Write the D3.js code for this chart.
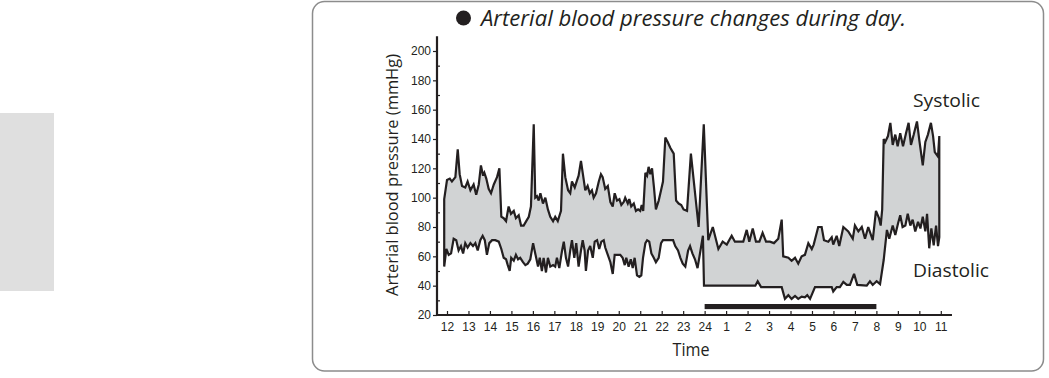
<!DOCTYPE html>
<html>
<head>
<meta charset="utf-8">
<script src="https://cdn.jsdelivr.net/npm/d3@7"></script>
<style>
  body { margin: 0; background: #fff; }
  svg { display: block; font-family: "Open Sans", sans-serif; }
  .axis text { font-size: 12px; fill: #231f20; }
  .axis line { stroke: #231f20; stroke-width: 1.2; }
</style>
</head>
<body>
<div id="chart-area"></div>
<script>
// readings: [hour since noon (12 = noon, 24 = midnight, 35 = 11 am), mmHg]
const systolic = [
  [11.87, 99], [12.0, 112], [12.13, 113], [12.23, 111], [12.39, 114], [12.5, 133], [12.59, 116],
  [12.7, 108], [12.85, 107], [12.96, 111], [13.09, 105], [13.24, 109], [13.36, 102], [13.48, 109],
  [13.58, 122], [13.68, 115], [13.74, 117], [13.83, 113], [13.94, 106], [14.05, 103], [14.18, 109],
  [14.33, 114], [14.44, 120], [14.53, 87], [14.64, 86], [14.75, 84], [14.87, 94], [14.98, 89],
  [15.11, 91], [15.21, 86], [15.34, 88], [15.45, 81], [15.57, 81], [15.69, 84], [15.81, 87],
  [15.91, 94], [16.04, 150], [16.11, 100], [16.19, 101], [16.27, 98], [16.35, 103], [16.47, 96],
  [16.58, 100], [16.7, 92], [16.81, 87], [16.94, 84], [17.04, 87], [17.16, 84], [17.31, 91],
  [17.4, 130], [17.51, 114], [17.64, 105], [17.74, 103], [17.82, 111], [17.95, 107], [18.06, 112],
  [18.13, 115], [18.24, 125], [18.33, 116], [18.44, 105], [18.55, 108], [18.65, 103], [18.75, 105],
  [18.83, 100], [18.94, 103], [19.07, 111], [19.17, 116], [19.25, 114], [19.37, 106], [19.49, 108],
  [19.61, 97], [19.72, 94], [19.81, 103], [19.92, 98], [20.03, 99], [20.12, 95], [20.23, 97],
  [20.3, 100], [20.42, 96], [20.49, 99], [20.58, 94], [20.7, 96], [20.8, 91], [20.9, 92],
  [21.0, 91], [21.07, 95], [21.14, 91], [21.24, 117], [21.32, 115], [21.39, 121], [21.47, 116],
  [21.55, 120], [21.64, 107], [21.73, 92], [21.86, 98], [21.97, 105], [22.06, 111], [22.17, 141],
  [22.28, 138], [22.4, 134], [22.56, 130], [22.67, 98], [22.79, 96], [22.91, 95], [23.02, 92],
  [23.18, 91], [23.36, 130], [23.72, 80], [23.96, 150], [24.17, 71], [24.38, 80], [24.64, 65],
  [24.84, 70], [25.03, 68], [25.26, 74], [25.41, 70], [25.8, 70], [25.96, 78], [26.08, 70],
  [26.24, 79], [26.39, 70], [26.55, 70], [26.7, 76], [26.86, 70], [27.04, 70], [27.23, 69],
  [27.43, 72], [27.59, 85], [27.66, 60], [27.9, 59], [28.05, 57], [28.21, 59], [28.36, 55],
  [28.52, 60], [28.67, 61], [28.83, 69], [28.99, 65], [29.08, 68], [29.29, 80], [29.45, 80],
  [29.56, 71], [29.76, 70], [29.92, 73], [29.99, 68], [30.15, 74], [30.27, 67], [30.46, 80],
  [30.69, 77], [30.9, 72], [31.0, 81], [31.16, 77], [31.32, 80], [31.47, 72], [31.62, 80],
  [31.83, 71], [31.98, 91], [32.12, 86], [32.2, 81], [32.27, 92], [32.34, 140], [32.41, 138],
  [32.54, 142], [32.65, 151], [32.76, 136], [32.88, 143], [32.99, 135], [33.11, 144], [33.24, 135],
  [33.38, 144], [33.5, 151], [33.61, 136], [33.74, 143], [33.89, 152], [34.0, 139], [34.16, 122],
  [34.28, 138], [34.4, 143], [34.54, 151], [34.64, 142], [34.72, 131], [34.87, 128], [34.93, 142]
];

const diastolic = [
  [11.87, 53], [11.97, 65], [12.08, 61], [12.19, 62], [12.31, 72], [12.43, 71], [12.54, 64],
  [12.65, 67], [12.75, 62], [12.85, 69], [12.96, 66], [13.09, 69], [13.21, 67], [13.32, 69],
  [13.43, 64], [13.55, 71], [13.66, 74], [13.76, 71], [13.86, 61], [13.97, 69], [14.1, 71],
  [14.25, 71], [14.41, 70], [14.53, 65], [14.64, 59], [14.75, 58], [14.83, 54], [14.92, 50],
  [14.99, 59], [15.11, 57], [15.21, 61], [15.31, 58], [15.41, 59], [15.54, 56], [15.65, 54],
  [15.76, 55], [15.88, 58], [16.01, 69], [16.11, 62], [16.24, 53], [16.32, 59], [16.42, 50],
  [16.5, 59], [16.61, 49], [16.7, 59], [16.81, 53], [16.94, 54], [17.04, 53], [17.12, 59],
  [17.23, 52], [17.36, 64], [17.44, 70], [17.54, 59], [17.64, 53], [17.74, 64], [17.82, 71],
  [17.93, 59], [18.02, 69], [18.13, 53], [18.24, 64], [18.32, 71], [18.41, 64], [18.47, 50],
  [18.57, 64], [18.67, 67], [18.79, 59], [18.88, 70], [18.99, 71], [19.09, 65], [19.19, 70],
  [19.3, 71], [19.37, 66], [19.49, 61], [19.61, 56], [19.72, 48], [19.81, 61], [19.92, 61],
  [20.07, 61], [20.18, 59], [20.28, 54], [20.35, 59], [20.46, 53], [20.56, 58], [20.65, 52],
  [20.74, 59], [20.85, 47], [20.96, 46], [21.05, 47], [21.13, 59], [21.24, 69], [21.32, 71],
  [21.42, 70], [21.52, 62], [21.63, 59], [21.73, 56], [21.86, 59], [21.97, 69], [22.06, 71],
  [22.53, 71], [22.63, 67], [22.76, 64], [22.87, 59], [22.98, 55], [23.1, 53], [23.23, 64],
  [23.32, 67], [23.43, 62], [23.55, 58], [23.67, 52], [23.92, 74], [23.97, 40], [26.36, 40],
  [26.47, 43], [26.63, 39], [27.59, 39], [27.74, 31], [27.9, 33.5], [28.05, 31], [28.21, 33],
  [28.36, 31], [28.52, 32.5], [28.67, 32], [28.78, 33.5], [28.91, 31], [29.14, 39], [29.92, 39],
  [29.99, 36], [30.15, 39], [30.3, 39], [30.46, 42.5], [30.62, 40.5], [30.77, 40.5], [30.96, 48],
  [31.11, 40.5], [31.55, 40], [31.7, 43], [31.83, 40.5], [32.01, 43], [32.17, 41], [32.34, 57.5],
  [32.49, 78], [32.6, 72], [32.76, 81], [32.88, 74.5], [33.01, 82.5], [33.11, 88], [33.22, 80],
  [33.35, 81], [33.46, 89], [33.58, 81], [33.69, 85], [33.81, 77], [33.94, 83.5], [34.05, 79],
  [34.16, 87], [34.28, 77], [34.36, 89], [34.46, 65.5], [34.56, 79], [34.67, 67.5], [34.78, 81],
  [34.87, 67], [34.93, 73]
];

const hourTicks = d3.range(12, 36);
const majorTicks = d3.range(20, 201, 20);
const minorTicks = d3.range(30, 200, 20);
const sleepPeriod = [24, 32];

const ink = "#231f20";

const svg = d3
  .select("#chart-area")
  .append("svg")
  .attr("width", 1049)
  .attr("height", 378);

// page decoration
svg.append("rect")
  .attr("x", 0).attr("y", 113)
  .attr("width", 54).attr("height", 178)
  .attr("fill", "#dfdfdf");

svg.append("rect")
  .attr("x", 312.5).attr("y", 1.5)
  .attr("width", 731).attr("height", 369.5)
  .attr("rx", 12)
  .attr("fill", "#fff")
  .attr("stroke", "#8c8c8c")
  .attr("stroke-width", 1.5);

const x = d3.scaleLinear().domain([12, 35]).range([447, 940.8]);
const y = d3.scaleLinear().domain([20, 200]).range([315, 51]);

// band between systolic and diastolic
const line = d3.line().x(d => x(d[0])).y(d => y(d[1]));
const band = systolic.concat(diastolic.slice().reverse());

svg.append("path")
  .attr("d", line(band) + "Z")
  .attr("fill", "#d1d3d4")
  .attr("stroke", ink)
  .attr("stroke-width", 2.2)
  .attr("stroke-linejoin", "miter")
  .attr("stroke-miterlimit", 3);

// sleep bar
svg.append("rect")
  .attr("x", x(sleepPeriod[0]))
  .attr("y", y(27.5))
  .attr("width", x(sleepPeriod[1]) - x(sleepPeriod[0]))
  .attr("height", y(24) - y(27.5))
  .attr("fill", ink);

// axes
const axisX = 437;

const xAxis = d3.axisBottom(x)
  .tickValues(hourTicks)
  .tickSize(-4)
  .tickSizeOuter(0)
  .tickPadding(7)
  .tickFormat(d => (d > 24 ? d - 24 : d));

const gx = svg.append("g")
  .attr("class", "axis")
  .attr("transform", `translate(0,${y(20)})`)
  .call(xAxis);
gx.select(".domain").remove();

const yAxis = d3.axisLeft(y)
  .tickValues(majorTicks)
  .tickSize(4)
  .tickSizeOuter(0)
  .tickPadding(2);

const gy = svg.append("g")
  .attr("class", "axis")
  .attr("transform", `translate(${axisX},0)`)
  .call(yAxis);
gy.select(".domain").remove();

const gyMinor = svg.append("g")
  .attr("class", "axis")
  .attr("transform", `translate(${axisX},0)`)
  .call(d3.axisLeft(y).tickValues(minorTicks).tickSize(-3).tickFormat(""));
gyMinor.select(".domain").remove();

svg.append("line")
  .attr("x1", axisX).attr("x2", x(35.52))
  .attr("y1", y(20)).attr("y2", y(20))
  .attr("stroke", ink).attr("stroke-width", 2.2);

svg.append("line")
  .attr("x1", axisX).attr("x2", axisX)
  .attr("y1", y(20) + 1).attr("y2", y(210))
  .attr("stroke", ink).attr("stroke-width", 2.2);

// labels
svg.append("circle")
  .attr("cx", 463.5).attr("cy", 18).attr("r", 7.5)
  .attr("fill", ink);

svg.append("text")
  .attr("x", 481).attr("y", 26)
  .attr("font-size", 21)
  .attr("font-style", "italic")
  .attr("textLength", 425)
  .attr("lengthAdjust", "spacingAndGlyphs")
  .attr("fill", ink)
  .text("Arterial blood pressure changes during day.");

svg.append("text")
  .attr("transform", "translate(398,175) rotate(-90)")
  .attr("text-anchor", "middle")
  .attr("font-size", 17)
  .attr("textLength", 242)
  .attr("lengthAdjust", "spacingAndGlyphs")
  .attr("fill", ink)
  .text("Arterial blood pressure (mmHg)");

svg.append("text")
  .attr("x", 691).attr("y", 356)
  .attr("text-anchor", "middle")
  .attr("font-size", 18)
  .attr("textLength", 37)
  .attr("lengthAdjust", "spacingAndGlyphs")
  .attr("fill", ink)
  .text("Time");

svg.append("text")
  .attr("x", 913).attr("y", 107)
  .attr("font-size", 18)
  .attr("textLength", 67)
  .attr("lengthAdjust", "spacingAndGlyphs")
  .attr("fill", ink)
  .text("Systolic");

svg.append("text")
  .attr("x", 913).attr("y", 277)
  .attr("font-size", 18)
  .attr("textLength", 76)
  .attr("lengthAdjust", "spacingAndGlyphs")
  .attr("fill", ink)
  .text("Diastolic");
</script>
</body>
</html>
